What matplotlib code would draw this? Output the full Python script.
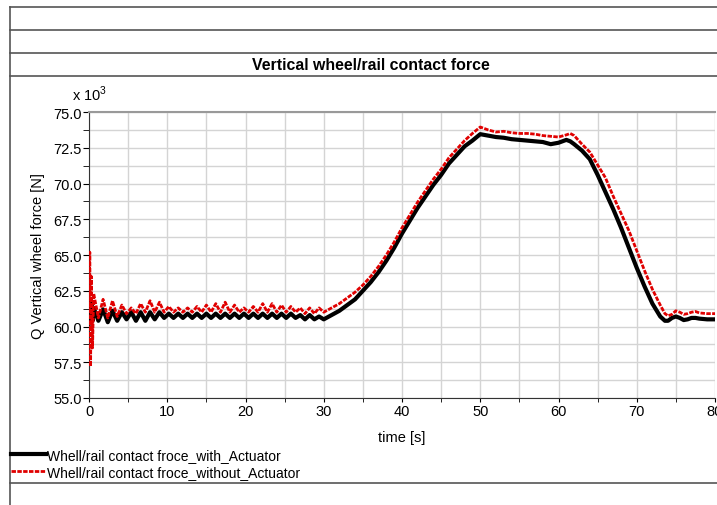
import numpy as np
import matplotlib
matplotlib.use('Agg')
import matplotlib.pyplot as plt
from matplotlib.lines import Line2D
from matplotlib.ticker import MultipleLocator, FormatStrFormatter

plt.rcParams['font.family'] = ['Liberation Sans', 'DejaVu Sans']
plt.rcParams['mathtext.fontset'] = 'custom'
plt.rcParams['mathtext.rm'] = 'Liberation Sans'

# sample times [s]
time = [0.0, 0.1, 0.2, 0.3, 0.45,
        0.6, 1.2, 1.8, 2.4, 3.0, 3.6, 4.2, 4.8, 5.4, 6.0,
        6.6, 7.2, 7.8, 8.4, 9.0, 9.6, 10.2, 10.8, 11.4, 12.0,
        12.6, 13.2, 13.8, 14.4, 15.0, 15.6, 16.2, 16.8, 17.4, 18.0,
        18.6, 19.2, 19.8, 20.4, 21.0, 21.6, 22.2, 22.8, 23.4, 24.0,
        24.6, 25.2, 25.8, 26.4, 27.0, 27.6, 28.2, 28.8, 29.4, 30.0,
        31, 32, 33, 34, 35, 36, 37, 38, 39, 40,
        41, 42, 43, 44, 45, 46, 47, 48, 49, 50,
        51, 52, 53, 54, 55, 56, 57, 58, 59, 60,
        61, 61.5, 62, 63, 64, 65, 66, 67, 68, 69,
        70, 71, 72, 73, 73.6, 74, 74.5, 75, 75.5, 76,
        76.5, 77, 77.5, 78, 79, 80]

# vertical force, x 10^3 N
force_with = [61.0, 61.8, 60.2, 61.5, 60.4,
              61.3, 60.4, 61.2, 60.3, 61.1, 60.4, 61.0, 60.5, 61.0, 60.4,
              61.0, 60.4, 61.0, 60.5, 61.0, 60.6, 60.9, 60.6, 60.9, 60.6,
              60.9, 60.6, 60.9, 60.6, 60.9, 60.6, 60.9, 60.6, 60.9, 60.6,
              60.9, 60.6, 60.9, 60.6, 60.9, 60.6, 60.9, 60.6, 60.9, 60.6,
              60.9, 60.6, 60.9, 60.6, 60.8, 60.5, 60.8, 60.5, 60.7, 60.5,
              60.8, 61.1, 61.5, 61.9, 62.5, 63.1, 63.8, 64.6, 65.5, 66.5,
              67.4, 68.3, 69.1, 69.9, 70.6, 71.4, 72.0, 72.6, 73.0, 73.45,
              73.35, 73.25, 73.2, 73.1, 73.05, 73.0, 72.95, 72.9, 72.75, 72.85,
              73.05, 72.95, 72.75, 72.3, 71.7, 70.6, 69.4, 68.2, 66.9, 65.5,
              64.1, 62.8, 61.6, 60.7, 60.4, 60.4, 60.6, 60.7, 60.6, 60.45,
              60.5, 60.6, 60.6, 60.55, 60.5, 60.5]

force_without = [61.0, 65.2, 57.2, 63.5, 58.5,
                 62.3, 60.6, 61.9, 60.6, 61.8, 60.7, 61.5, 60.9, 61.3, 60.9,
                 61.6, 61.0, 61.8, 61.0, 61.7, 61.0, 61.4, 61.0, 61.3, 61.0,
                 61.3, 61.0, 61.4, 61.0, 61.5, 61.0, 61.6, 61.0, 61.7, 61.0,
                 61.5, 61.0, 61.3, 61.0, 61.4, 61.0, 61.6, 61.0, 61.6, 61.0,
                 61.5, 61.0, 61.4, 61.0, 61.3, 60.9, 61.3, 60.9, 61.3, 61.0,
                 61.3, 61.6, 62.0, 62.4, 62.9, 63.5, 64.2, 65.0, 65.9, 66.9,
                 67.8, 68.7, 69.5, 70.3, 71.0, 71.8, 72.4, 73.0, 73.5, 73.95,
                 73.75, 73.6, 73.65, 73.55, 73.5, 73.5, 73.45, 73.35, 73.3, 73.25,
                 73.4, 73.5, 73.35, 72.75, 72.2, 71.3, 70.4, 69.1, 67.9, 66.7,
                 65.3, 63.9, 62.6, 61.5, 60.9, 60.75, 60.85, 61.1, 61.0, 60.85,
                 60.9, 61.0, 61.05, 60.95, 60.9, 60.9]

labels = ['Whell/rail contact froce_with_Actuator',
          'Whell/rail contact froce_without_Actuator']

W, H = 717, 506
fig = plt.figure(figsize=(W / 100, H / 100), dpi=100)

# page frame lines
frame_col = '#555555'
for yp in [7.5, 31, 54, 77, 484]:
    fig.add_artist(Line2D([10 / W, 1.0], [1 - yp / H, 1 - yp / H], color=frame_col, lw=1.2))
fig.add_artist(Line2D([10 / W, 10 / W], [0, 1 - 7.5 / H], color=frame_col, lw=1.2))

fig.text(371 / W, 1 - 65 / H, 'Vertical wheel/rail contact force', ha='center', va='center',
         fontsize=11.4, fontweight='bold')

ax = fig.add_axes([89 / W, 1 - 399 / H, 626 / W, 286 / H])
ax.plot(time, force_with, color='black', lw=3, label=labels[0], zorder=3)
ax.plot(time, force_without, color='#e00000', lw=2, ls=(0, (1.6, 0.5)), label=labels[1], zorder=4)

ax.set_xlim(0, 80)
ax.set_ylim(55, 75)
ax.xaxis.set_major_locator(MultipleLocator(10))
ax.xaxis.set_minor_locator(MultipleLocator(5))
ax.yaxis.set_major_locator(MultipleLocator(2.5))
ax.yaxis.set_minor_locator(MultipleLocator(1.25))
ax.yaxis.set_major_formatter(FormatStrFormatter('%.1f'))
ax.grid(True, which='both', color='#d4d4d4', lw=1)
ax.set_axisbelow(True)
ax.tick_params(axis='y', which='both', direction='out', labelsize=10.5, length=4, pad=1)
ax.tick_params(axis='x', which='both', direction='out', labelsize=10.5, length=3, pad=1)
ax.spines['right'].set_visible(False)
ax.spines['top'].set_color('#999999')
ax.spines['top'].set_linewidth(1.5)
ax.spines['left'].set_color('#333333')
ax.spines['bottom'].set_color('#333333')
ax.set_xlabel('time [s]', fontsize=10.5, labelpad=9)
ax.set_ylabel('Q Vertical wheel force [N]', fontsize=10.5, labelpad=6)

fig.text(72 / W, 1 - 94 / H, r'x 10$^3$', fontsize=10.5, va='center')

fig.legend(loc='upper left', bbox_to_anchor=(11 / W, 1 - 449 / H), frameon=False,
           fontsize=10, handlelength=2.5, handletextpad=0.1, borderpad=0,
           borderaxespad=0, labelspacing=0.2)

fig.savefig('out.png', dpi=100)
